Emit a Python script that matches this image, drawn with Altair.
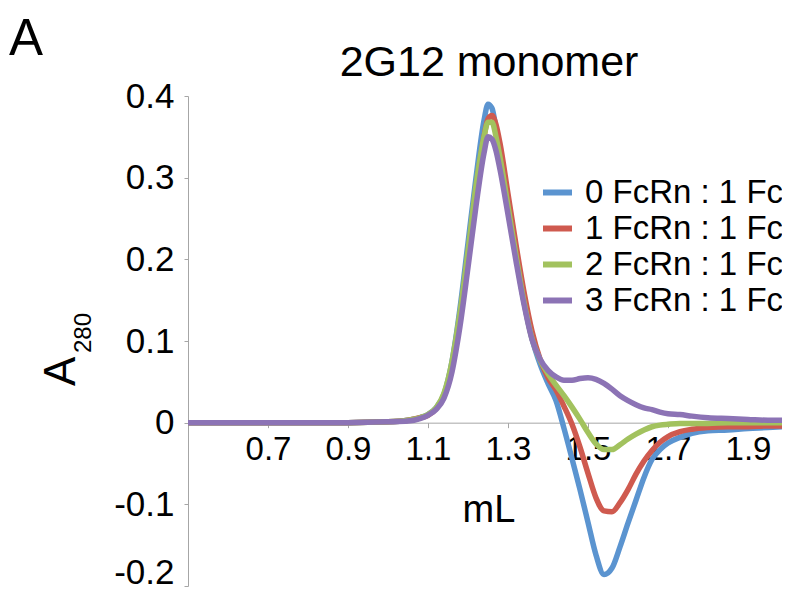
import altair as alt
import pandas as pd

# ---- data ----
x_ml = [0.50, 0.60, 0.70, 0.80, 0.90, 1.00, 1.05, 1.08, 1.10, 1.12,
        1.14, 1.16, 1.17, 1.18, 1.20, 1.22, 1.24, 1.25, 1.26, 1.27,
        1.28, 1.30, 1.32, 1.34, 1.36, 1.38, 1.40, 1.42, 1.44, 1.46,
        1.48, 1.50, 1.52, 1.54, 1.56, 1.58, 1.60, 1.62, 1.64, 1.66,
        1.68, 1.70, 1.73, 1.76, 1.80, 1.85, 1.90, 1.95, 1.985]

series_names = ["0 FcRn : 1 Fc", "1 FcRn : 1 Fc", "2 FcRn : 1 Fc", "3 FcRn : 1 Fc"]

a280_0 = [0, 0, 0, 0, 0, 0.001, 0.003, 0.006, 0.010, 0.018,
          0.035, 0.075, 0.105, 0.14, 0.22, 0.30, 0.37, 0.39, 0.385, 0.36,
          0.33, 0.265, 0.205, 0.148, 0.103, 0.072, 0.048, 0.027, -0.007, -0.044,
          -0.082, -0.122, -0.162, -0.186, -0.178, -0.152, -0.123, -0.095, -0.067, -0.045,
          -0.033, -0.025, -0.018, -0.013, -0.010, -0.009, -0.007, -0.006, -0.005]

a280_1 = [0, 0, 0, 0, 0, 0.001, 0.003, 0.006, 0.009, 0.017,
          0.033, 0.07, 0.098, 0.13, 0.205, 0.285, 0.35, 0.372, 0.376, 0.365,
          0.342, 0.28, 0.218, 0.16, 0.112, 0.078, 0.055, 0.04, 0.02, -0.002,
          -0.03, -0.062, -0.092, -0.108, -0.109, -0.098, -0.082, -0.063, -0.047, -0.034,
          -0.024, -0.017, -0.011, -0.008, -0.006, -0.005, -0.005, -0.004, -0.004]

a280_2 = [0, 0, 0, 0, 0, 0.001, 0.003, 0.006, 0.010, 0.018,
          0.036, 0.075, 0.103, 0.135, 0.21, 0.29, 0.35, 0.368, 0.368, 0.35,
          0.325, 0.265, 0.205, 0.148, 0.103, 0.077, 0.06, 0.046, 0.033, 0.019,
          0.004, -0.012, -0.026, -0.033, -0.033, -0.027, -0.02, -0.014, -0.009, -0.005,
          -0.003, -0.002, -0.001, -0.001, -0.001, 0, 0, 0, 0]

a280_3 = [0, 0, 0, 0, 0, 0.001, 0.002, 0.005, 0.009, 0.016,
          0.03, 0.062, 0.088, 0.118, 0.19, 0.265, 0.33, 0.35, 0.347, 0.333,
          0.31, 0.255, 0.198, 0.145, 0.102, 0.078, 0.064, 0.056, 0.052, 0.052,
          0.054, 0.055, 0.053, 0.048, 0.041, 0.033, 0.027, 0.022, 0.018, 0.016,
          0.013, 0.011, 0.01, 0.008, 0.006, 0.005, 0.004, 0.003, 0.003]

colors = ["#5B94D0", "#CF5A4F", "#A2C25E", "#8C73B5"]
x_ticks = [0.7, 0.9, 1.1, 1.3, 1.5, 1.7, 1.9]
y_ticks = [0.4, 0.3, 0.2, 0.1, 0.0, -0.1, -0.2]

title_text = "2G12 monomer"
panel_letter = "A"
x_title = "mL"
y_title_main = "A"
y_title_sub = "280"

# ---- build table ----
rows = []
for name, ys in zip(series_names, [a280_0, a280_1, a280_2, a280_3]):
    for xv, yv in zip(x_ml, ys):
        rows.append({"mL": xv, "A280": yv, "series": name})
df = pd.DataFrame(rows)

W, H = 594, 490
FONT = "Liberation Sans, Arial, Helvetica, sans-serif"
AXIS_GRAY = "#a6a6a6"

lines = alt.Chart(df).mark_line(strokeWidth=5.5, interpolate="monotone").encode(
    x=alt.X("mL:Q",
            scale=alt.Scale(domain=[0.5, 1.985], nice=False, zero=False),
            axis=alt.Axis(values=x_ticks, title=None, offset=-H / 3, grid=False,
                          domainColor=AXIS_GRAY, tickColor=AXIS_GRAY, tickSize=5,
                          labelFontSize=33, labelFont=FONT, labelColor="black",
                          labelPadding=6, labelFlush=False, labelOverlap=False,
                          format=".1f")),
    y=alt.Y("A280:Q",
            scale=alt.Scale(domain=[-0.2, 0.4], nice=False, zero=False),
            axis=alt.Axis(values=y_ticks, title=None, grid=False,
                          domainColor=AXIS_GRAY, tickColor=AXIS_GRAY, tickSize=4,
                          labelFontSize=35, labelFont=FONT, labelColor="black",
                          labelPadding=10, labelFlush=False, labelOverlap=False,
                          labelExpr="datum.value == 0 ? '0' : (datum.value < 0 ? '-' : '') + format(abs(datum.value), '.1f')",
                          labelBaseline={"condition": {"test": "datum.value < -0.15", "value": "bottom"},
                                         "value": "middle"},
                          labelOffset={"condition": {"test": "datum.value < -0.15", "value": 4},
                                       "value": 0})),
    color=alt.Color("series:N",
                    scale=alt.Scale(domain=series_names, range=colors),
                    legend=alt.Legend(orient="none", legendX=352, legendY=79, title=None,
                                      symbolType="stroke", symbolSize=841, symbolStrokeWidth=6,
                                      labelFontSize=33, labelFont=FONT, labelColor="black",
                                      labelOffset=10, rowPadding=1, padding=0, labelLimit=400)),
)

one = pd.DataFrame({"k": [0]})

title_mark = alt.Chart(one).mark_text(text=title_text, fontSize=43, font=FONT, align="center",
                                      baseline="alphabetic", color="black").encode(
    x=alt.value(301), y=alt.value(-20))

xlab = alt.Chart(one).mark_text(text=x_title, fontSize=38, font=FONT, align="center",
                                baseline="alphabetic", color="black").encode(
    x=alt.value(301), y=alt.value(426))

letter = alt.Chart(one).mark_text(text=panel_letter, fontSize=51, font=FONT, align="left",
                                  baseline="alphabetic", color="black").encode(
    x=alt.value(-179), y=alt.value(-41))

ylab_main = alt.Chart(one).mark_text(text=y_title_main, fontSize=44, font=FONT, align="left",
                                     baseline="alphabetic", angle=270, color="black").encode(
    x=alt.value(-113), y=alt.value(290))

ylab_sub = alt.Chart(one).mark_text(text=y_title_sub, fontSize=24, font=FONT, align="left",
                                    baseline="alphabetic", angle=270, color="black").encode(
    x=alt.value(-97), y=alt.value(257))

chart = alt.layer(lines, title_mark, xlab, letter, ylab_main, ylab_sub).properties(
    width=W, height=H,
    autosize=alt.AutoSizeParams(type="none"),
    padding={"left": 180, "top": 88, "right": 0, "bottom": 5},
).configure_view(stroke="transparent")

chart.save("out.html", embed_options={"renderer": "svg", "actions": False})
